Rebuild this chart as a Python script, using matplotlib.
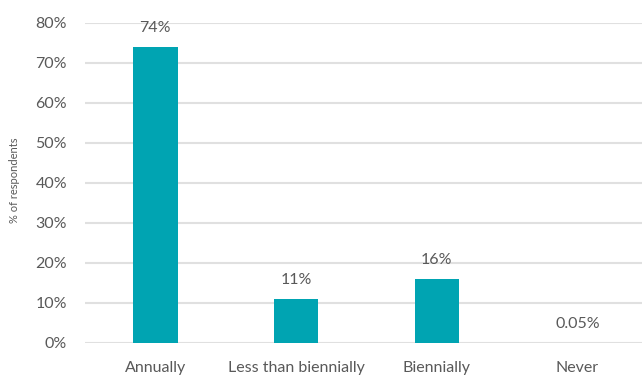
import matplotlib.pyplot as plt

categories = ['Annually', 'Less than biennially', 'Biennially', 'Never']
values = [74, 11, 16, 0.05]
labels = ['74%', '11%', '16%', '0.05%']
yticks = [0, 10, 20, 30, 40, 50, 60, 70, 80]

plt.rcParams['font.family'] = ['Lato', 'DejaVu Sans']
text_color = '#595959'

fig = plt.figure(figsize=(6.42, 3.76), dpi=100)
ax = fig.add_axes([85 / 642, 33.3 / 376, 562.8 / 642, 320 / 376])

x = range(len(categories))
ax.bar(x, values, width=0.316, color='#00a4b2', zorder=3)

for xi, v, lab in zip(x, values, labels):
    ax.annotate(lab, (xi, v), xytext=(0, 13.5), textcoords='offset points',
                ha='center', va='center', fontsize=11.5, color=text_color)

ax.set_xlim(-0.5, 3.5)
ax.set_ylim(0, 80)
ax.set_yticks(yticks)
ax.set_yticklabels([f'{t}%' for t in yticks])
ax.set_xticks(list(x))
ax.set_xticklabels(categories)
ax.tick_params(axis='both', length=0, labelsize=11.5, colors=text_color)
ax.tick_params(axis='y', pad=13)
ax.tick_params(axis='x', pad=13.5)
ax.grid(axis='y', color='#e0e0e0', linewidth=1.5, zorder=0)
ax.set_axisbelow(True)
for s in ax.spines.values():
    s.set_visible(False)

fig.text(15 / 642, 1 - 180 / 376, '% of respondents', rotation=90,
         ha='center', va='center', fontsize=8, color=text_color)

plt.savefig('out.png', dpi=100)
plt.close()
